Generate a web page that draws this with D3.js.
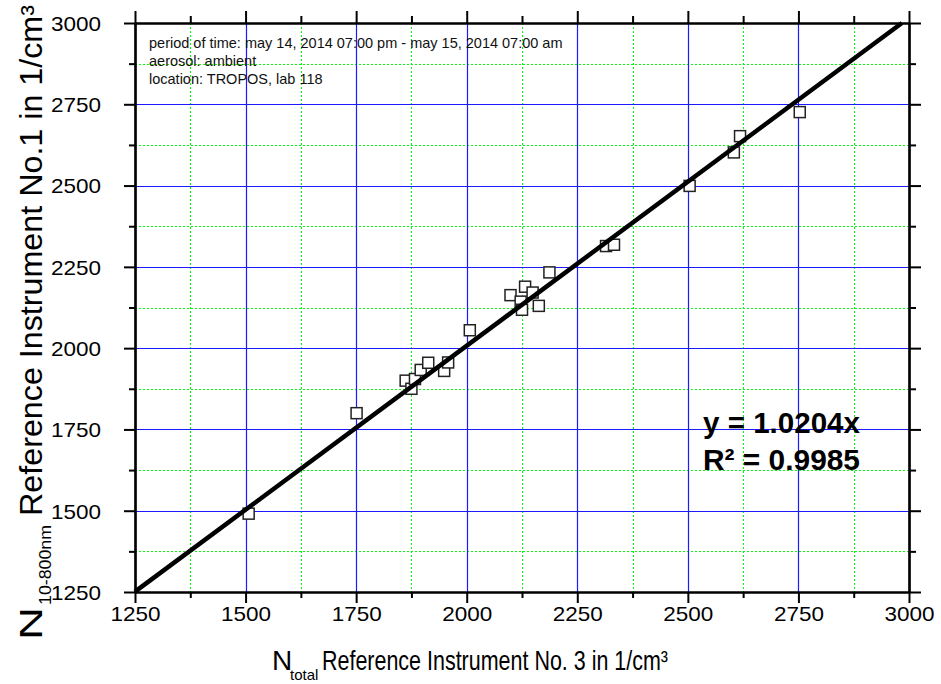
<!DOCTYPE html>
<html><head><meta charset="utf-8">
<script src="https://cdn.jsdelivr.net/npm/d3@7"></script>
<style>body{margin:0;background:#fff}svg{display:block}text{font-family:"Liberation Sans",Arial,sans-serif}</style>
</head><body>
<script>
const xValues = [1507,1751,1862,1875,1883,1896,1913,1949,1958,2007,2099,2122,2125,2132,2149,2163,2187,2315,2333,2504,2604,2618,2753];
const yValues = [1491,1800,1900,1875,1905,1933,1955,1930,1956,2055,2163,2143,2118,2189,2171,2130,2233,2314,2318,2499,2602,2652,2726];
const majorTicks = [1250,1500,1750,2000,2250,2500,2750,3000];
const minorTicks = [1375,1625,1875,2125,2375,2625,2875];
const trendX = [1250,2984];
const trendY = [1251,3000];
const annotation = ["period of time: may 14, 2014 07:00 pm - may 15, 2014 07:00 am","aerosol: ambient","location: TROPOS, lab 118"];
const equation = ["y = 1.0204x","R² = 0.9985"];

(function(){
const W=941,H=684;
const svg=d3.select("body").append("svg").attr("width",W).attr("height",H);
const x=d3.scaleLinear().domain([1250,3000]).range([135,909]);
const y=d3.scaleLinear().domain([1250,3000]).range([592,23]);

// grid
const g=svg.append("g");
g.selectAll(".vmin").data(minorTicks).join("line").attr("x1",d=>Math.round(x(d))+0.5).attr("x2",d=>Math.round(x(d))+0.5)
 .attr("y1",y(3000)).attr("y2",y(1250)).attr("stroke","#00ff00").attr("stroke-dasharray","2,2");
g.selectAll(".hmin").data(minorTicks).join("line").attr("y1",d=>Math.round(y(d))+0.5).attr("y2",d=>Math.round(y(d))+0.5)
 .attr("x1",x(1250)).attr("x2",x(3000)).attr("stroke","#00ff00").attr("stroke-dasharray","2,2");
const inner=majorTicks.slice(1,-1);
g.selectAll(".vmaj").data(inner).join("line").attr("x1",d=>Math.round(x(d))+0.5).attr("x2",d=>Math.round(x(d))+0.5)
 .attr("y1",y(3000)).attr("y2",y(1250)).attr("stroke","#1a1aff").attr("stroke-width",1.2);
g.selectAll(".hmaj").data(inner).join("line").attr("y1",d=>Math.round(y(d))+0.5).attr("y2",d=>Math.round(y(d))+0.5)
 .attr("x1",x(1250)).attr("x2",x(3000)).attr("stroke","#1a1aff").attr("stroke-width",1.2);

// points
svg.selectAll(".pt").data(xValues.map((v,i)=>[v,yValues[i]])).join("rect")
 .attr("x",d=>x(d[0])-5.5).attr("y",d=>y(d[1])-5.5).attr("width",11).attr("height",11)
 .attr("fill","#fff").attr("stroke","#222").attr("stroke-width",1.5);

// trend line
svg.append("line").attr("x1",x(trendX[0])).attr("y1",y(trendY[0])).attr("x2",x(trendX[1])).attr("y2",y(trendY[1]))
 .attr("stroke","#000").attr("stroke-width",4.5);

// axes
const fmt=d3.format("d");
const axB=svg.append("g").attr("transform",`translate(0,${y(1250)})`).call(d3.axisBottom(x).tickValues(majorTicks).tickFormat(fmt).tickSize(11).tickSizeOuter(0));
const axL=svg.append("g").attr("transform",`translate(${x(1250)},0)`).call(d3.axisLeft(y).tickValues(majorTicks).tickFormat(fmt).tickSize(11).tickSizeOuter(0));
svg.append("g").attr("transform",`translate(0,${y(3000)})`).call(d3.axisTop(x).tickValues(majorTicks).tickFormat("").tickSize(12).tickSizeOuter(0));
svg.append("g").attr("transform",`translate(${x(3000)},0)`).call(d3.axisRight(y).tickValues(majorTicks).tickFormat("").tickSize(12).tickSizeOuter(0));
svg.append("g").attr("transform",`translate(0,${y(1250)})`).call(d3.axisBottom(x).tickValues(minorTicks).tickFormat("").tickSize(6).tickSizeOuter(0));
svg.append("g").attr("transform",`translate(${x(1250)},0)`).call(d3.axisLeft(y).tickValues(minorTicks).tickFormat("").tickSize(6).tickSizeOuter(0));
svg.append("g").attr("transform",`translate(0,${y(3000)})`).call(d3.axisTop(x).tickValues(minorTicks).tickFormat("").tickSize(7).tickSizeOuter(0));
svg.append("g").attr("transform",`translate(${x(3000)},0)`).call(d3.axisRight(y).tickValues(minorTicks).tickFormat("").tickSize(7).tickSizeOuter(0));
svg.selectAll(".domain").attr("stroke","#000").attr("stroke-width",2.2);
svg.selectAll(".tick line").attr("stroke","#000").attr("stroke-width",2);
axB.selectAll("text").attr("font-size",21).attr("fill","#000").attr("dy","0.72em").attr("textLength",50).attr("lengthAdjust","spacingAndGlyphs");
axL.selectAll("text").attr("font-size",21).attr("fill","#000").attr("x",-34).attr("dy","0.35em").attr("textLength",50).attr("lengthAdjust","spacingAndGlyphs");

// annotation
svg.append("g").selectAll("text").data(annotation).join("text")
 .attr("x",149).attr("y",(d,i)=>48+i*18).attr("font-size",14.5).attr("fill","#111").text(d=>d);

// equation
svg.append("g").selectAll("text").data(equation).join("text")
 .attr("x",703).attr("y",(d,i)=>433+i*37).attr("font-size",30).attr("font-weight","bold").attr("fill","#000")
 .attr("textLength",157).attr("lengthAdjust","spacingAndGlyphs").text(d=>d);

// x label
const xl=svg.append("g");
xl.append("text").attr("x",272).attr("y",670).attr("font-size",28).text("N");
xl.append("text").attr("x",290).attr("y",680).attr("font-size",15).text("total");
xl.append("text").attr("x",322).attr("y",670).attr("font-size",28).attr("textLength",346).attr("lengthAdjust","spacingAndGlyphs").text("Reference Instrument No. 3 in 1/cm³");

// y label
const yl=svg.append("g").attr("transform","translate(42,640) rotate(-90)");
yl.append("text").attr("x",0).attr("y",0).attr("font-size",31).attr("textLength",33).attr("lengthAdjust","spacingAndGlyphs").text("N");
yl.append("text").attr("x",35).attr("y",9).attr("font-size",16).attr("textLength",80).attr("lengthAdjust","spacingAndGlyphs").text("10-800nm");
yl.append("text").attr("x",124).attr("y",0).attr("font-size",31).attr("textLength",511).attr("lengthAdjust","spacingAndGlyphs").text("Reference Instrument No.1 in 1/cm³");
})();
</script>
</body></html>
